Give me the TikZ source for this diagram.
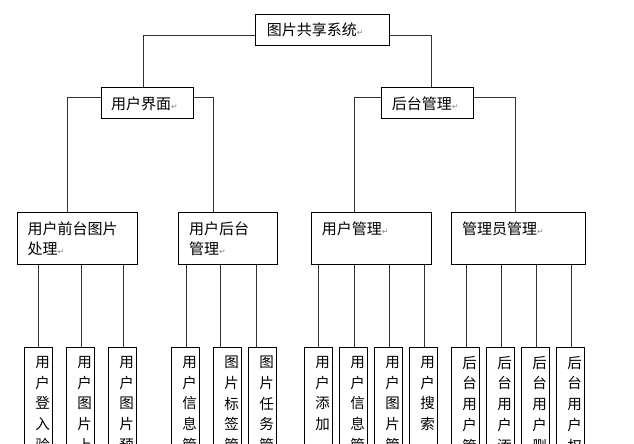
\documentclass[tikz,border=0pt]{standalone}
\usepackage{fontspec}
\newfontfamily\cjk{Noto Sans CJK SC}
\newfontfamily\symfnt{DejaVu Sans}
\newcommand\pmk{{\symfnt\fontsize{8}{8}\selectfont\color{black!45}\char"21B5}}
\begin{document}
\begin{tikzpicture}[x=1pt,y=-1pt,
  box/.style={draw=black, line width=0.9pt, fill=white, inner sep=0pt},
  con/.style={draw=black!80, line width=0.9pt},
  txt/.style={font=\cjk\fontsize{15}{20}\selectfont, inner sep=0pt, align=left},
  vtxt/.style={font=\cjk\fontsize{14.5}{20.7}\selectfont, inner sep=0pt, align=center, anchor=north}]
\useasboundingbox (0,0) rectangle (634,444);
\clip (0,0) rectangle (634,444);
% level 0
\node[box, minimum width=133.4pt, minimum height=31pt, anchor=north west] (root) at (255.3,14.3) {};
\node[txt, anchor=west] (rootT) at (266.7,30.2) {图片共享系统\pmk};
% level 1
\node[box, minimum width=91.4pt, minimum height=31pt, anchor=north west] (ui) at (101.3,87.3) {};
\node[txt, anchor=west] (uiT) at (111,103.5) {用户界面\pmk};
\node[box, minimum width=91.4pt, minimum height=31pt, anchor=north west] (admin) at (381.3,87.3) {};
\node[txt, anchor=west] (adminT) at (391.7,103.5) {后台管理\pmk};
% level 2
\node[box, minimum width=119.4pt, minimum height=52pt, anchor=north west] (a) at (17.3,212.3) {};
\node[txt, anchor=north west] (aT) at (27.3,221.7) {用户前台图片\\处理\pmk};
\node[box, minimum width=98.4pt, minimum height=52pt, anchor=north west] (b) at (178.3,212.3) {};
\node[txt, anchor=north west] (bT) at (189,221.7) {用户后台\\管理\pmk};
\node[box, minimum width=119.4pt, minimum height=52pt, anchor=north west] (c) at (311.3,212.3) {};
\node[txt, anchor=north west] (cT) at (321.7,221.7) {用户管理\pmk};
\node[box, minimum width=133.4pt, minimum height=52pt, anchor=north west] (d) at (451.3,212.3) {};
\node[txt, anchor=north west] (dT) at (462,221.7) {管理员管理\pmk};
% connectors upper levels
\draw[con] ([yshift=-5.2pt]root.west) -| ([xshift=-3.7pt]ui.north);
\draw[con] ([yshift=-5.2pt]root.east) -| ([xshift=3.7pt]admin.north);
\draw[con] ([yshift=5.5pt]ui.west) -| ([xshift=-10.3pt]a.north);
\draw[con] ([yshift=5.5pt]ui.east) -| ([xshift=-14.2pt]b.north);
\draw[con] ([yshift=5.5pt]admin.west) -| ([xshift=-17.3pt]c.north);
\draw[con] ([yshift=5.5pt]admin.east) -| ([xshift=-3.3pt]d.north);
% leaves
\foreach \n/\xl/\pp/\dx/\t in {
  1/24.3/a/0/{用\\户\\登\\入\\验},
  2/66.3/a/0.4/{用\\户\\图\\片\\上},
  3/108.3/a/0.4/{用\\户\\图\\片\\预},
  4/171.3/b/0.4/{用\\户\\信\\息\\管},
  5/213.3/b/-7/{图\\片\\标\\签\\管},
  6/248.3/b/-6.6/{图\\片\\任\\务\\管},
  7/304.3/c/0/{用\\户\\添\\加},
  8/339.3/c/0.4/{用\\户\\信\\息\\管},
  9/374.3/c/0.4/{用\\户\\图\\片\\管},
  10/409.3/c/0.4/{用\\户\\搜\\索},
  11/451.3/d/0.4/{后\\台\\用\\户\\管},
  12/486.3/d/0.4/{后\\台\\用\\户\\添},
  13/521.3/d/0.4/{后\\台\\用\\户\\删},
  14/556.3/d/0.4/{后\\台\\用\\户\\权}} {
  \node[box, minimum width=28pt, minimum height=130pt, anchor=north west] (l\n) at (\xl,347.3) {};
  \node[vtxt] (lt\n) at (\xl+18.2,356) {\t};
  \coordinate (k\n) at ([xshift=\dx pt]l\n.north);
  \draw[con] (k\n) -- (k\n |- \pp.south);
}
\end{tikzpicture}
\end{document}
